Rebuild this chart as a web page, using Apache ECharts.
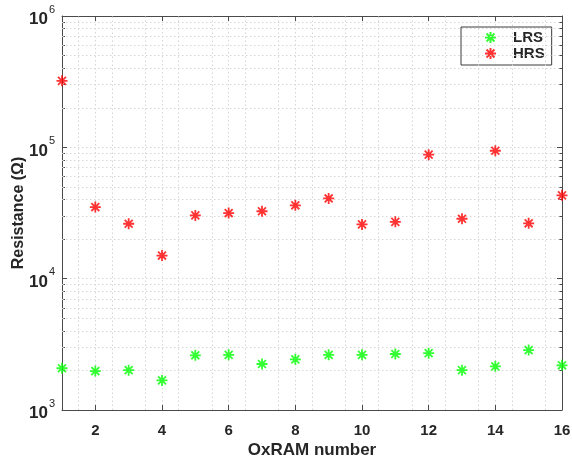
<!DOCTYPE html>
<html>
<head>
<meta charset="utf-8">
<script src="https://cdn.jsdelivr.net/npm/echarts@6/dist/echarts.min.js"></script>
<style>html,body{margin:0;padding:0;background:#fff;}#c{width:572px;height:460px;}</style>
</head>
<body>
<div id="c"></div>
<script>
var oxramNumbers = [1,2,3,4,5,6,7,8,9,10,11,12,13,14,15,16];
var lrsValues = [2080,1980,2010,1680,2610,2630,2240,2430,2630,2630,2670,2710,2010,2150,2860,2190];
var hrsValues = [321000,35100,26200,15000,30300,31600,32600,36200,40800,25900,27100,87900,28600,94200,26400,43100];
var xTickValues = [2,4,6,8,10,12,14,16];
var yMinorGrid = [2000,3000,4000,5000,6000,7000,8000,9000,20000,30000,40000,50000,60000,70000,80000,90000,200000,300000,400000,500000,600000,700000,800000,900000];
var xMinorGrid = [1.5,2.5,3.5,4.5,5.5,6.5,7.5,8.5,9.5,10.5,11.5,12.5,13.5,14.5,15.5];
var seriesNames = ['LRS','HRS'];

var AX = '#4a4a4a';
var TXT = '#262626';
var GRID = '#d6d6d6';
var star = 'path://M0,-5L0,5M-5,0L5,0M-3.6,-3.6L3.6,3.6M-3.6,3.6L3.6,-3.6';

function pairs(vals){ return oxramNumbers.map(function(x,i){ return [x, vals[i]]; }); }

var chart = echarts.init(document.getElementById('c'), null, {renderer:'canvas'});
var minorLines = [];
yMinorGrid.forEach(function(v){ minorLines.push({yAxis:v}); });
xMinorGrid.forEach(function(v){ minorLines.push({xAxis:v}); });

function logAxis(pos, extra){
  var a = {
    type:'log', logBase:10, min:1000, max:1000000, position:pos, offset:0,
    axisLine:{show:true, lineStyle:{color:AX, width:1}},
    axisTick:{show:true, inside:true, length:5, lineStyle:{color:AX}},
    axisLabel:{show:false}, splitLine:{show:false}
  };
  for (var k in extra) a[k] = extra[k];
  return a;
}

chart.setOption({
  animation:false,
  backgroundColor:'#fff',
  grid:{left:62, right:10, top:16, bottom:50, containLabel:false, outerBoundsMode:'none'},
  xAxis:[{
    type:'value', min:1, max:16, interval:1, position:'bottom',
    name:'OxRAM number', nameLocation:'middle', nameGap:32, nameMoveOverlap:false,
    nameTextStyle:{fontFamily:'Liberation Sans', fontWeight:'bold', fontSize:17, color:TXT},
    axisLine:{show:true, lineStyle:{color:AX, width:1}},
    axisTick:{show:true, inside:true, length:5, lineStyle:{color:AX}, customValues:xTickValues},
    axisLabel:{margin:13, fontFamily:'Liberation Sans', fontWeight:'bold', fontSize:15, color:TXT,
      formatter:function(v){ return (v % 2 === 0) ? String(v) : ''; }},
    splitLine:{show:true, lineStyle:{color:GRID, type:[1.5,2.5]}}
  },{
    type:'value', min:1, max:16, interval:1, position:'top', offset:0,
    axisLine:{show:true, lineStyle:{color:AX, width:1}},
    axisTick:{show:true, inside:true, length:5, lineStyle:{color:AX}, customValues:xTickValues},
    axisLabel:{show:false}, splitLine:{show:false}
  }],
  yAxis:[{
    type:'log', logBase:10, min:1000, max:1000000, position:'left', offset:0,
    name:'Resistance (Ω)', nameLocation:'middle', nameGap:35, nameRotate:90, nameMoveOverlap:false,
    nameTextStyle:{fontFamily:'Liberation Sans', fontWeight:'bold', fontSize:16, color:TXT},
    axisLine:{show:true, lineStyle:{color:AX, width:1}},
    axisTick:{show:true, inside:true, length:5, lineStyle:{color:AX}},
    axisLabel:{margin:7, color:TXT,
      formatter:function(v){ var e = Math.round(Math.log10(v)); return '{b|10}{e|' + e + '}'; },
      rich:{
        b:{fontFamily:'Liberation Sans', fontWeight:'bold', fontSize:17, color:TXT, padding:[7,0,0,0]},
        e:{fontFamily:'Liberation Sans', fontSize:11, color:TXT, padding:[0,0,7,1], verticalAlign:'top'}
      }},
    splitLine:{show:true, lineStyle:{color:GRID, type:[1.5,2.5]}}
  },
  logAxis('right', {}),
  logAxis('left', {axisLine:{show:false}, axisTick:{show:true, inside:true, length:3, lineStyle:{color:AX}, customValues:yMinorGrid}}),
  logAxis('right', {axisLine:{show:false}, axisTick:{show:true, inside:true, length:3, lineStyle:{color:AX}, customValues:yMinorGrid}})
  ],
  legend:{
    left:461, top:27, orient:'vertical', data:seriesNames,
    backgroundColor:'#fff', borderColor:'#3a3a3a', borderWidth:1,
    padding:[3,7,4,23], itemGap:1, itemWidth:11, itemHeight:11,
    textStyle:{fontFamily:'Liberation Sans', fontWeight:'bold', fontSize:15, color:TXT, padding:[0,0,0,12]}
  },
  series:[{
    name:'grid', type:'line', data:[], silent:true,
    markLine:{silent:true, symbol:['none','none'], label:{show:false},
      lineStyle:{color:GRID, type:[1.5,2.5], width:1}, data:minorLines}
  },{
    name:seriesNames[0], type:'scatter', symbol:star, symbolSize:11, z:5,
    itemStyle:{color:'#00ff00', borderColor:'#00ff00', borderWidth:1.8},
    data:pairs(lrsValues)
  },{
    name:seriesNames[1], type:'scatter', symbol:star, symbolSize:11, z:5,
    itemStyle:{color:'#ff0000', borderColor:'#ff0000', borderWidth:1.8},
    data:pairs(hrsValues)
  }]
});
</script>
</body>
</html>
